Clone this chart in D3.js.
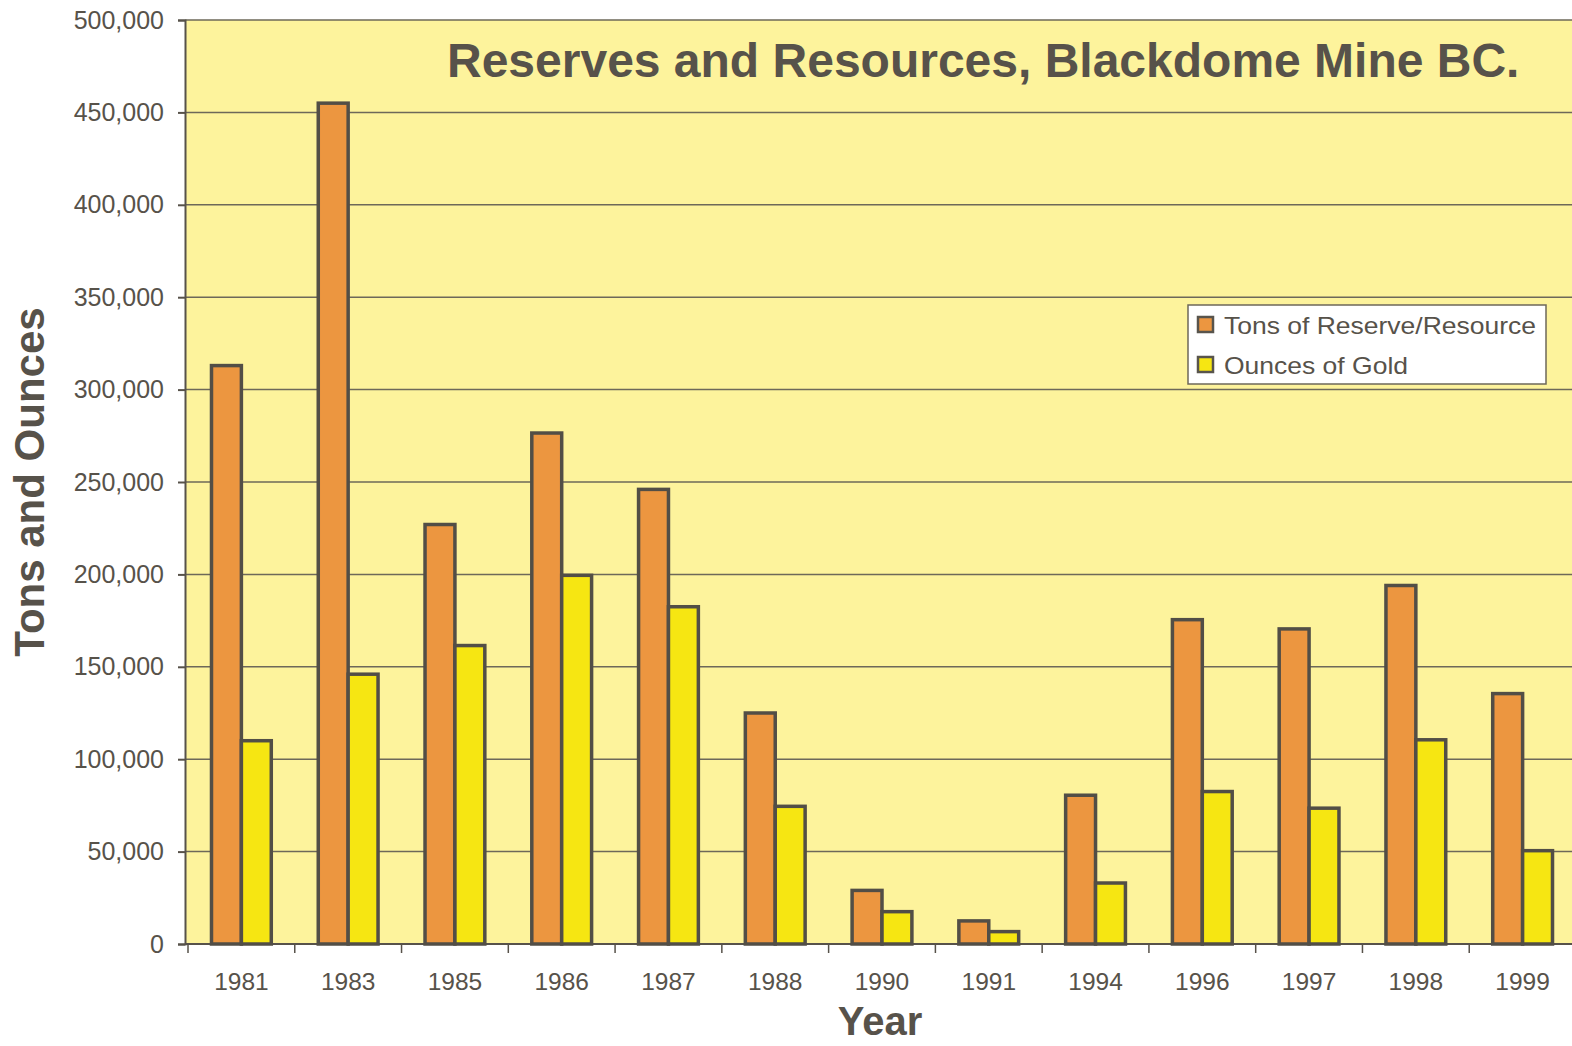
<!DOCTYPE html>
<html>
<head>
<meta charset="utf-8">
<script src="https://cdn.jsdelivr.net/npm/d3@7"></script>
<style>
  body { margin: 0; background: #fff; }
  text { font-family: "Liberation Sans", Arial, sans-serif; fill: #57524a; }
</style>
</head>
<body>
<div id="chart-area"></div>
<script>
// data
var years = ["1981", "1983", "1985", "1986", "1987", "1988", "1990", "1991", "1994", "1996", "1997", "1998", "1999"];
var tons = [313000, 455000, 227000, 276500, 246000, 125000, 29000, 12500, 80500, 175500, 170500, 194000, 135500];
var ounces = [110000, 146000, 161500, 199500, 182500, 74500, 17500, 6700, 33000, 82500, 73500, 110500, 50500];
var seriesNames = ["Tons of Reserve/Resource", "Ounces of Gold"];
var yTicks = [0, 50000, 100000, 150000, 200000, 250000, 300000, 350000, 400000, 450000, 500000];

var colors = {"Tons of Reserve/Resource": "#ec9640", "Ounces of Gold": "#f6e612"};
var ink = "#57524a";

var W = 1572, H = 1046;
var plotLeft = 185, plotTop = 20, plotBottom = 944;

var svg = d3.select("#chart-area")
  .append("svg")
    .attr("width", W)
    .attr("height", H);

var rows = years.map(function(y, i) {
  return {year: y, values: [
    {key: seriesNames[0], value: tons[i]},
    {key: seriesNames[1], value: ounces[i]}
  ]};
});

// scales
var x0 = d3.scaleBand()
  .domain(years)
  .range([188, 1576])
  .padding(0);

var groupW = x0.bandwidth() * 0.56;
var x1 = d3.scaleBand()
  .domain(seriesNames)
  .range([0, groupW])
  .padding(0);

var y = d3.scaleLinear()
  .domain([0, 500000])
  .range([plotBottom, plotTop]);

// plot background
svg.append("rect")
  .attr("x", plotLeft)
  .attr("y", plotTop)
  .attr("width", W - plotLeft)
  .attr("height", plotBottom - plotTop)
  .attr("fill", "#fdf39c");

// gridlines
svg.append("g")
  .selectAll("line")
  .data(yTicks.slice(1))
  .enter()
  .append("line")
    .attr("x1", plotLeft)
    .attr("x2", W)
    .attr("y1", function(d) { return y(d); })
    .attr("y2", function(d) { return y(d); })
    .attr("stroke", "#6d6859")
    .attr("stroke-width", 1.5);

// y axis
var yAxis = svg.append("g")
  .attr("transform", "translate(" + plotLeft + ",0)")
  .call(d3.axisLeft(y).tickValues(yTicks).tickSize(7).tickPadding(14).tickFormat(d3.format(",")));
yAxis.selectAll("text").attr("font-size", "25px").style("fill", ink);
yAxis.selectAll("line, path").attr("stroke", ink).attr("stroke-width", 2);

// x axis (ticks at band boundaries)
var xAxis = svg.append("g")
  .attr("transform", "translate(0," + plotBottom + ")");
xAxis.append("line")
  .attr("x1", plotLeft).attr("x2", W)
  .attr("stroke", ink).attr("stroke-width", 2);
xAxis.selectAll(".tick")
  .data(years)
  .enter()
  .append("line")
    .attr("class", "tick")
    .attr("x1", function(d) { return x0(d); })
    .attr("x2", function(d) { return x0(d); })
    .attr("y1", 0).attr("y2", 9)
    .attr("stroke", ink).attr("stroke-width", 1.5);
xAxis.selectAll(".lbl")
  .data(years)
  .enter()
  .append("text")
    .attr("class", "lbl")
    .attr("x", function(d) { return x0(d) + x0.bandwidth() / 2; })
    .attr("y", 46)
    .attr("text-anchor", "middle")
    .attr("font-size", "24.5px")
    .text(function(d) { return d; });

// bars
var groups = svg.append("g")
  .selectAll("g")
  .data(rows)
  .enter()
  .append("g")
    .attr("transform", function(d) {
      return "translate(" + (x0(d.year) + (x0.bandwidth() - groupW) / 2) + ",0)";
    });

groups.selectAll("rect")
  .data(function(d) { return d.values; })
  .enter()
  .append("rect")
    .attr("x", function(d) { return x1(d.key); })
    .attr("y", function(d) { return y(d.value); })
    .attr("width", x1.bandwidth())
    .attr("height", function(d) { return y(0) - y(d.value); })
    .attr("fill", function(d) { return colors[d.key]; })
    .attr("stroke", "#524e46")
    .attr("stroke-width", 3.5);

// title
svg.append("text")
  .attr("x", 447)
  .attr("y", 77)
  .attr("font-size", "48px")
  .attr("font-weight", "bold")
  .text("Reserves and Resources, Blackdome Mine BC.");

// axis titles
svg.append("text")
  .attr("x", 880)
  .attr("y", 1035)
  .attr("text-anchor", "middle")
  .attr("font-size", "40px")
  .attr("font-weight", "bold")
  .text("Year");

svg.append("text")
  .attr("transform", "translate(44,482) rotate(-90)")
  .attr("text-anchor", "middle")
  .attr("font-size", "42px")
  .attr("font-weight", "bold")
  .text("Tons and Ounces");

// legend
var legend = svg.append("g")
  .attr("transform", "translate(1188,305)");
legend.append("rect")
  .attr("width", 358)
  .attr("height", 79)
  .attr("fill", "#fff")
  .attr("stroke", "#6d6859")
  .attr("stroke-width", 1.5);
var items = legend.selectAll(".item")
  .data(seriesNames)
  .enter()
  .append("g")
    .attr("class", "item")
    .attr("transform", function(d, i) { return "translate(0," + (i * 40) + ")"; });
items.append("rect")
  .attr("x", 10).attr("y", 12)
  .attr("width", 15).attr("height", 15)
  .attr("fill", function(d) { return colors[d]; })
  .attr("stroke", "#58544c")
  .attr("stroke-width", 2.5);
items.append("text")
  .attr("x", 36)
  .attr("y", 29)
  .attr("font-size", "24px")
  .attr("textLength", function(d, i) { return i === 0 ? 312 : 184; })
  .attr("lengthAdjust", "spacingAndGlyphs")
  .text(function(d) { return d; });
</script>
</body>
</html>
